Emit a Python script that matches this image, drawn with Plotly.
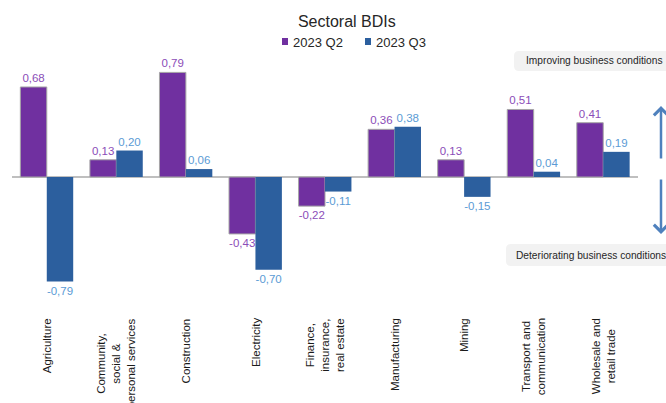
import plotly.graph_objects as go

# Sector names (line breaks as they appear under the axis)
categories = [
    "Agriculture",
    "Community,<br>social &<br>personal services",
    "Construction",
    "Electricity",
    "Finance,<br>insurance,<br>real estate",
    "Manufacturing",
    "Mining",
    "Transport and<br>communication",
    "Wholesale and<br>retail trade",
]
q2_values = [0.68, 0.13, 0.79, -0.43, -0.22, 0.36, 0.13, 0.51, 0.41]
q3_values = [-0.79, 0.20, 0.06, -0.70, -0.11, 0.38, -0.15, 0.04, 0.19]
series_names = ["2023 Q2", "2023 Q3"]
series_colors = ["#7030A0", "#2C5F9E"]

W, H = 666, 403
L, R, T, B = 12, 28, 55, 103
PW, PH = W - L - R, H - T - B
FONT = "Liberation Sans, Arial, sans-serif"


def px_x(px):
    return (px - L) / PW


def px_y(py):
    return (H - B - py) / PH


def fmt(v):
    return f"{v:.2f}".replace(".", ",")


fig = go.Figure()
fig.add_bar(
    x=categories, y=q2_values, name=series_names[0],
    marker=dict(color=series_colors[0], line=dict(color="#A6A6A6", width=1)),
    text=[fmt(v) for v in q2_values], textposition="outside",
    textfont=dict(color="#8B4DB8", size=11.5, family=FONT),
    constraintext="none", cliponaxis=False, showlegend=False,
)
fig.add_bar(
    x=categories, y=q3_values, name=series_names[1],
    marker=dict(color=series_colors[1], line=dict(width=0)),
    text=[fmt(v) for v in q3_values], textposition="outside",
    textfont=dict(color="#5B9BD5", size=11.5, family=FONT),
    constraintext="none", cliponaxis=False, showlegend=False,
)

annotations = []
shapes = []

# Rotated sector labels under the axis
for c in categories:
    annotations.append(dict(
        x=c, xref="x", y=px_y(316), yref="paper",
        text=c, textangle=-90, showarrow=False, align="center",
        xanchor="center", yanchor="top",
        font=dict(size=11.5, color="#1a1a1a", family=FONT),
    ))

# Compact legend: small colour square followed by the series name
legend_x = [282, 365]
for name, color, lx in zip(series_names, series_colors, legend_x):
    shapes.append(dict(
        type="rect", xref="paper", yref="paper",
        x0=px_x(lx), x1=px_x(lx + 6), y0=px_y(45), y1=px_y(38),
        fillcolor=color, line=dict(width=0),
    ))
    annotations.append(dict(
        x=px_x(lx + 9), y=px_y(42), xref="paper", yref="paper",
        text=name, showarrow=False, xanchor="left", yanchor="middle",
        font=dict(size=13, color="#262626", family=FONT),
    ))

# Side captions
annotations.append(dict(
    x=px_x(524), y=px_y(61), xref="paper", yref="paper",
    text="Improving business conditions", showarrow=False,
    xanchor="left", yanchor="middle",
    font=dict(size=10.2, color="#262626", family=FONT),
))
annotations.append(dict(
    x=px_x(514), y=px_y(255), xref="paper", yref="paper",
    text="Deteriorating business conditions", showarrow=False,
    xanchor="left", yanchor="middle",
    font=dict(size=10.2, color="#262626", family=FONT),
))

# Direction arrows
annotations.append(dict(
    x=px_x(661), y=px_y(106), xref="paper", yref="paper",
    ax=0, ay=54, showarrow=True, arrowhead=4, arrowsize=1.1,
    arrowwidth=2.5, arrowcolor="#4F81BD", text="",
))
annotations.append(dict(
    x=px_x(661), y=px_y(234), xref="paper", yref="paper",
    ax=0, ay=-56, showarrow=True, arrowhead=4, arrowsize=1.1,
    arrowwidth=2.5, arrowcolor="#4F81BD", text="",
))


def rounded_box(x0, y0, x1, y1, r=5):
    X0, X1 = px_x(x0), px_x(x1)
    Y0, Y1 = px_y(y0), px_y(y1)
    rx, ry = r / PW, r / PH
    path = (
        f"M {X0 + rx},{Y0} L {X1},{Y0} L {X1},{Y1} L {X0 + rx},{Y1} "
        f"Q {X0},{Y1} {X0},{Y1 + ry} L {X0},{Y0 - ry} Q {X0},{Y0} {X0 + rx},{Y0} Z"
    )
    return dict(type="path", xref="paper", yref="paper", path=path,
                fillcolor="#F2F2F2", line=dict(width=0), layer="below")


shapes += [rounded_box(514, 51, 690, 71), rounded_box(506, 244, 690, 266)]

fig.update_layout(
    width=W, height=H,
    margin=dict(l=L, r=R, t=T, b=B),
    paper_bgcolor="white", plot_bgcolor="white",
    barmode="group", bargap=0.24, bargroupgap=0.0,
    title=dict(text="Sectoral BDIs", x=px_x(338), xanchor="center",
               y=1 - 21 / H, yanchor="middle",
               font=dict(size=16, color="#262626", family=FONT)),
    xaxis=dict(showticklabels=False, showgrid=False, showline=False,
               zeroline=False, ticks=""),
    yaxis=dict(range=[-(H - B - 177) / 132.4, (177 - T) / 132.4],
               showticklabels=False, showgrid=False, showline=False,
               zeroline=True, zerolinecolor="#BFBFBF", zerolinewidth=1.5,
               ticks=""),
    annotations=annotations,
    shapes=shapes,
    showlegend=False,
)

fig.write_html("out.html")
